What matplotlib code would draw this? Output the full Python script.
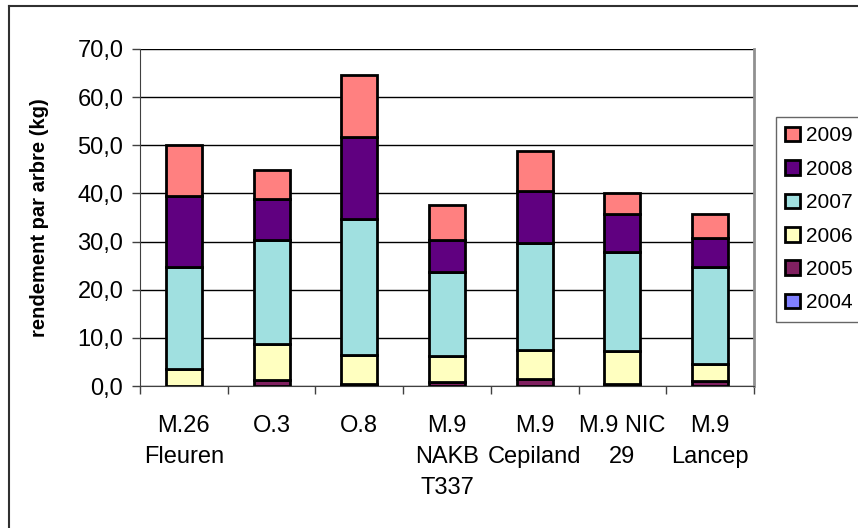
import numpy as np
import matplotlib
matplotlib.use("Agg")
from matplotlib import pyplot as plt
from matplotlib.lines import Line2D

plt.rcParams["font.family"] = ["Liberation Sans", "DejaVu Sans"]

# Data
categories = ["M.26\nFleuren", "O.3", "O.8", "M.9\nNAKB\nT337",
              "M.9\nCepiland", "M.9 NIC\n29", "M.9\nLancep"]
years = ["2004", "2005", "2006", "2007", "2008", "2009"]
y2004 = [0.0, 0.0, 0.0, 0.0, 0.0, 0.0, 0.0]
y2005 = [0.1, 1.2, 0.5, 0.8, 1.4, 0.4, 1.0]
y2006 = [3.4, 7.5, 5.9, 5.4, 6.1, 6.9, 3.5]
y2007 = [21.3, 21.7, 28.3, 17.5, 22.2, 20.6, 20.2]
y2008 = [14.6, 8.4, 17.1, 6.7, 10.9, 7.9, 6.0]
y2009 = [10.6, 6.1, 12.7, 7.2, 8.2, 4.3, 5.1]
colors = ["#8080FF", "#802060", "#FFFFC0", "#A0E0E0", "#600080", "#FF8080"]

series = [y2004, y2005, y2006, y2007, y2008, y2009]

fig = plt.figure(figsize=(8.58, 5.28), dpi=100)
ax = fig.add_axes([140 / 858, 1 - 386 / 528, 614 / 858, 337 / 528])

x = np.arange(len(categories))
bottom = np.zeros(len(categories))
handles = []
for yr, vals, col in zip(years, series, colors):
    vals = np.array(vals)
    b = ax.bar(x, vals, width=0.41, bottom=bottom, color=col,
               edgecolor="black", linewidth=2.0, label=yr, zorder=3)
    handles.append(b)
    bottom += vals

ax.set_xlim(-0.5, len(categories) - 0.5)
ax.set_ylim(0, 70)
ax.set_yticks(np.arange(0, 71, 10))
ax.set_yticklabels([f"{v:.1f}".replace(".", ",") for v in np.arange(0, 71, 10)],
                   fontsize=17)
ax.yaxis.grid(True, color="black", linewidth=1.0, zorder=0)
ax.set_axisbelow(True)

ax.set_xticks(x)
ax.set_xticklabels(categories, fontsize=17, linespacing=1.52)
ax.set_xticks(np.arange(-0.5, len(categories)), minor=True)
ax.tick_params(axis="x", which="major", length=0, pad=21)
ax.tick_params(axis="x", which="minor", length=6, width=1, color="#404040")
ax.tick_params(axis="y", length=6, width=1, pad=6, color="#404040")

ax.spines["top"].set_visible(False)
ax.spines["right"].set_color("#909090")
ax.spines["right"].set_linewidth(2)
ax.spines["left"].set_color("#404040")
ax.spines["bottom"].set_color("#404040")

ax.set_ylabel("rendement par arbre (kg)", fontsize=14.5, fontweight="bold")
ax.yaxis.set_label_coords(-0.148, 0.5)

leg = fig.legend(handles[::-1], years[::-1], loc="upper left",
                 bbox_to_anchor=(776 / 858, 1 - 117 / 528), fontsize=15,
                 frameon=True, fancybox=False, edgecolor="#404040",
                 handlelength=0.7, handleheight=0.7, handletextpad=0.3,
                 labelspacing=0.69, borderpad=0.45, borderaxespad=0)
leg.get_frame().set_linewidth(1.0)

# Outer chart frame (left and top edges visible)
fig.add_artist(Line2D([9 / 858, 9 / 858], [0, 1 - 6 / 528], color="#303030",
                      linewidth=1.5, transform=fig.transFigure))
fig.add_artist(Line2D([9 / 858, 1], [1 - 6 / 528, 1 - 6 / 528], color="#303030",
                      linewidth=1.5, transform=fig.transFigure))

fig.savefig("out.png", dpi=100)
